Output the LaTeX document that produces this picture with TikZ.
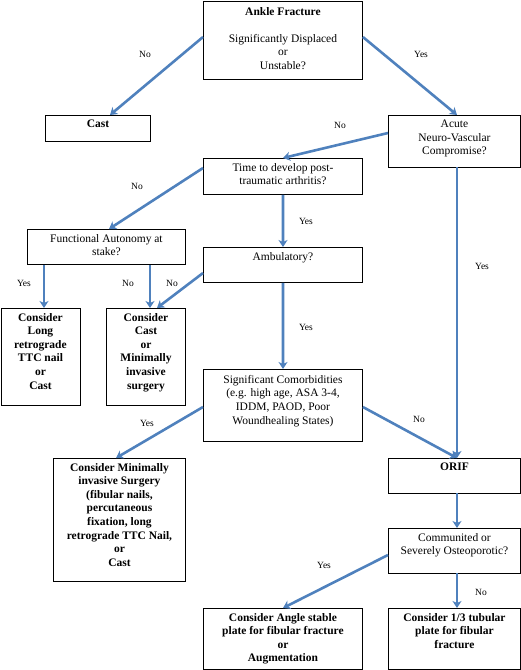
\documentclass[tikz,border=0pt]{standalone}
\usepackage{fontspec}
\setmainfont{Liberation Serif}
\usetikzlibrary{arrows.meta}
\definecolor{arrowblue}{RGB}{79,129,189}
\tikzset{
  box/.style={draw=black, line width=0.9pt, inner sep=0pt, anchor=north west},
  txt/.style={anchor=north, align=center, inner sep=0pt, font=\fontsize{11.5}{13.6}\selectfont},
  lbl/.style={inner sep=0pt, font=\fontsize{9.5}{10}\selectfont},
  arr/.style={draw=arrowblue, line width=2.6pt, -{Stealth[length=7pt,width=9pt,inset=2pt]}},
}
\begin{document}
\begin{tikzpicture}[x=1pt,y=-1pt]
\useasboundingbox (0,0) rectangle (521,670);
% boxes
\node[box, minimum width=159pt, minimum height=78pt] (ankle) at (203,1) {};
\node[box, minimum width=105pt, minimum height=26pt] (cast) at (45,115) {};
\node[box, minimum width=132pt, minimum height=52pt] (acute) at (388,115) {};
\node[box, minimum width=159pt, minimum height=36pt] (time) at (203,158) {};
\node[box, minimum width=158pt, minimum height=35pt] (fa) at (27,229) {};
\node[box, minimum width=159pt, minimum height=35pt] (amb) at (203,247) {};
\node[box, minimum width=79pt, minimum height=97pt] (long) at (0.5,308) {};
\node[box, minimum width=79pt, minimum height=97pt] (ccast) at (106,308) {};
\node[box, minimum width=159pt, minimum height=72pt] (sig) at (203,369) {};
\node[box, minimum width=132pt, minimum height=123pt] (cmin) at (53,458) {};
\node[box, minimum width=132pt, minimum height=35pt] (orif) at (388,458) {};
\node[box, minimum width=132pt, minimum height=45pt] (comm) at (388,528) {};
\node[box, minimum width=159pt, minimum height=61pt] (angle) at (203,608) {};
\node[box, minimum width=132pt, minimum height=61pt] (tub) at (388,608) {};
% texts
\node[txt] (tankle) at ([yshift=-6pt]ankle.north) {\textbf{Ankle Fracture}\\[13.6pt]Significantly Displaced\\or\\Unstable?};
\node[txt] (tcast) at ([yshift=-5pt]cast.north) {\textbf{Cast}};
\node[txt] (tacute) at ([yshift=-5pt]acute.north) {Acute\\Neuro-Vascular\\Compromise?};
\node[txt] (ttime) at ([yshift=-5pt]time.north) {Time to develop post-\\traumatic arthritis?};
\node[txt] (tfa) at ([yshift=-5pt]fa.north) {Functional Autonomy at\\stake?};
\node[txt] (tamb) at ([yshift=-5pt]amb.north) {Ambulatory?};
\node[txt] (tlong) at ([yshift=-5pt]long.north) {\textbf{Consider}\\\textbf{Long}\\\textbf{retrograde}\\\textbf{TTC nail}\\\textbf{or}\\\textbf{Cast}};
\node[txt] (tccast) at ([yshift=-5pt]ccast.north) {\textbf{Consider}\\\textbf{Cast}\\\textbf{or}\\\textbf{Minimally}\\\textbf{invasive}\\\textbf{surgery}};
\node[txt] (tsig) at ([yshift=-6pt]sig.north) {Significant Comorbidities\\(e.g. high age, ASA 3-4,\\IDDM, PAOD, Poor\\Woundhealing States)};
\node[txt] (tcmin) at ([yshift=-5pt]cmin.north) {\textbf{Consider Minimally}\\\textbf{invasive Surgery}\\\textbf{(fibular nails,}\\\textbf{percutaneous}\\\textbf{fixation, long}\\\textbf{retrograde TTC Nail,}\\\textbf{or}\\\textbf{Cast}};
\node[txt] (torif) at ([yshift=-5pt]orif.north) {\textbf{ORIF}};
\node[txt] (tcomm) at ([yshift=-5pt]comm.north) {Communited or\\Severely Osteoporotic?};
\node[txt] (tangle) at ([yshift=-5pt]angle.north) {\textbf{Consider Angle stable}\\\textbf{plate for fibular fracture}\\\textbf{or}\\\textbf{Augmentation}};
\node[txt] (ttub) at ([yshift=-5pt]tub.north) {\textbf{Consider 1/3 tubular}\\\textbf{plate for fibular}\\\textbf{fracture}};
% anchor coordinates on boxes
\coordinate (castT) at (110,115);
\coordinate (acuteT) at (457,115);
\coordinate (acuteB) at (457,167);
\coordinate (timeT) at (283,158);
\coordinate (faT) at (109,229);
\coordinate (longT) at (44,308);
\coordinate (ccastT) at (150,308);
\coordinate (ccastT2) at (157,308);
\coordinate (ambT) at (283,247);
\coordinate (sigT) at (283,369);
\coordinate (cminT) at (116,458);
\coordinate (orifT) at (457,458);
\coordinate (orifB) at (457,493);
\coordinate (commT) at (457,528);
\coordinate (commB) at (457,573);
\coordinate (angleT) at (283,608);
\coordinate (tubT) at (457,608);
% arrows
\draw[arr] (ankle.west |- 0,37) -- (castT);
\draw[arr] (ankle.east |- 0,37) -- (acuteT);
\draw[arr] (acute.west |- 0,133) -- (timeT);
\draw[arr] (time.west |- 0,168) -- (faT);
\draw[arr] (time.south) -- (ambT);
\draw[arr] (acuteB) -- (orifT);
\draw[arr] (fa.south -| longT) -- (longT);
\draw[arr] (fa.south -| ccastT) -- (ccastT);
\draw[arr] (amb.west |- 0,273) -- (ccastT2);
\draw[arr] (amb.south) -- (sigT);
\draw[arr] (sig.west |- 0,407) -- (cminT);
\draw[arr] (sig.east |- 0,407) -- (orifT);
\draw[arr] (orifB) -- (commT);
\draw[arr] (comm.west |- 0,555) -- (angleT);
\draw[arr] (commB) -- (tubT);
% labels
\node[lbl] (l1) at (145,54) {No};
\node[lbl] (l2) at (421,54) {Yes};
\node[lbl] (l3) at (340,125) {No};
\node[lbl] (l4) at (137,186) {No};
\node[lbl] (l5) at (306,221) {Yes};
\node[lbl] (l6) at (24,283) {Yes};
\node[lbl] (l7) at (128,283) {No};
\node[lbl] (l8) at (172,283) {No};
\node[lbl] (l9) at (482,266) {Yes};
\node[lbl] (l10) at (306,327) {Yes};
\node[lbl] (l11) at (147,423) {Yes};
\node[lbl] (l12) at (419,419) {No};
\node[lbl] (l13) at (324,565) {Yes};
\node[lbl] (l14) at (481,592) {No};
\end{tikzpicture}
\end{document}
